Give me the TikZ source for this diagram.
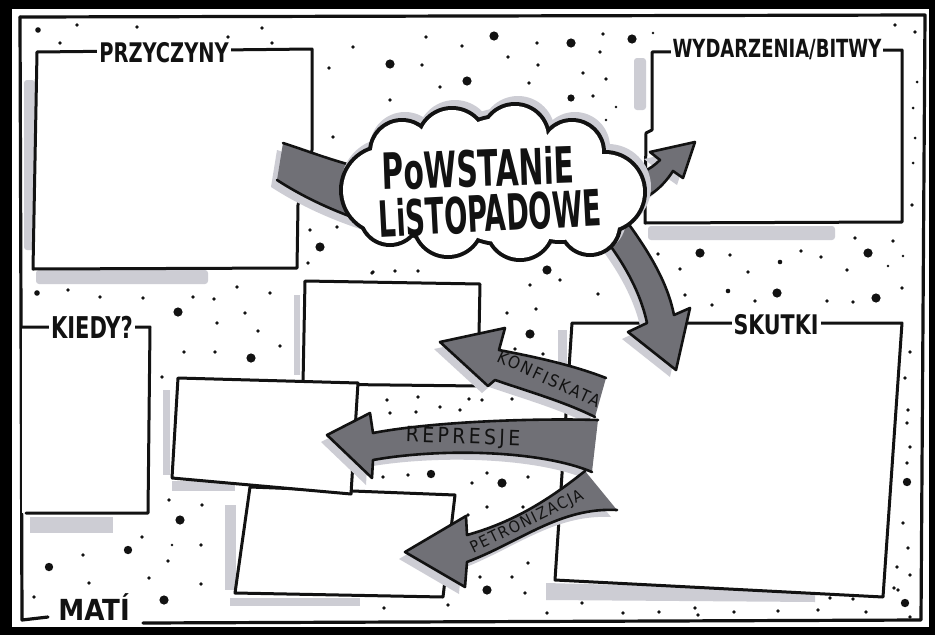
\documentclass[tikz,border=0pt]{standalone}
\usepackage{fontspec}
\usepackage{graphicx}
\newfontfamily\handfont{DejaVu Sans Condensed}
\usetikzlibrary{positioning}
\definecolor{ink}{RGB}{18,18,18}
\definecolor{bandgray}{RGB}{112,112,118}
\definecolor{smudge}{RGB}{205,205,212}
\newcommand{\narrow}[2]{\scalebox{#1}[1]{#2}}
\tikzset{
	frameline/.style={line width=3.2pt, line cap=round, line join=round, draw=ink},
	boxline/.style={line width=3pt, line cap=round, line join=round, draw=ink, fill=white},
	band/.style={fill=bandgray, draw=ink, line width=2.6pt, line join=round, line cap=round,
		preaction={draw=none, fill=smudge, transform canvas={shift={(-6pt,-7pt)}}}},
	title/.style={font=\handfont\bfseries\fontsize{27}{27}\selectfont, text=ink, fill=white, inner sep=2pt},
	bandlabel/.style={font=\handfont\fontsize{20}{20}\selectfont, text=ink, inner sep=0pt},
	bigword/.style={font=\handfont\bfseries\fontsize{50}{50}\selectfont, text=ink, inner sep=0pt}
}
\def\cloudpuffs{440/185/55, 500/180/62, 560/188/52, 385/190/42, 402/152/30, 452/143/33, 515/138/32, 572/152/30, 605/192/38, 590/225/28, 520/226/32, 448/222/33, 390/215/28}
\begin{document}
\begin{tikzpicture}[x=1pt,y=-1pt]
	\useasboundingbox (0,0) rectangle (935,635);
	\fill[black] (0,0) rectangle (935,635);
	\fill[white] (12,9) rectangle (929,627);
	\draw[frameline] (20,17) -- (925,15) -- (921,620) -- (143,623);
	\draw[frameline] (20,17) -- (22,620) -- (48,617);

	\foreach \x/\y/\r in {38/30/2.8, 77/25/1.9, 137/27/1.9, 60/43/1.9, 228/37/1.9, 262/28/1.9, 272/43/1.9, 329/68/1.9, 353/47/1.9, 390/64/4.6, 422/65/1.9, 426/37/1.9, 462/46/1.9, 494/36/4.6, 467/81/4.6, 440/87/1.9, 390/100/1.9, 333/137/1.9, 508/57/1.9, 537/43/1.9, 538/65/1.9, 529/83/1.9, 571/43/4.6, 603/34/1.9, 600/52/1.9, 632/39/4.6, 653/33/1.3, 583/73/1.9, 606/79/1.9, 571/98/3.6, 593/96/1.9, 616/107/1.3, 606/120/1.3,
		337/227/1.9, 310/230/1.9, 320/247/4.6, 308/263/1.9, 373/272/1.9, 547/270/4.6, 530/285/1.9, 560/280/1.9, 598/294/1.9,
		37/293/2.8, 68/290/1.9, 100/297/1.9, 143/298/1.9, 193/297/1.9, 237/287/1.9, 270/293/1.9, 178/312/4.6, 245/313/1.9, 214/299/1.9, 217/323/1.9, 258/331/1.9, 184/352/1.9, 215/352/1.9, 280/346/1.9, 251/358/4.6, 162/377/1.9,
		895/25/1.9, 915/32/1.9, 917/82/1.5, 913/108/1.5, 915/138/1.5, 913/163/1.5, 912/205/1.9,
		700/253/4.6, 658/254/1.9, 730/255/1.9, 780/262/2.3, 801/251/1.9, 821/257/1.9, 855/238/1.9, 868/253/4.6, 893/241/1.9, 903/256/1.3, 680/269/1.9, 748/272/1.9, 847/270/1.9, 888/266/1.3, 685/295/1.9, 728/291/2.3, 777/293/4.6, 712/305/1.9, 755/301/1.9, 827/301/1.9, 853/302/1.9, 876/298/4.6, 902/288/1.9,
		910/352/1.9, 905/378/1.9, 908/410/1.9, 907/423/1.9, 910/447/1.9, 907/463/1.9, 907/482/4.2, 903/523/1.9, 908/548/1.9, 897/567/1.9, 910/575/1.9, 898/590/1.9, 905/603/4.2, 910/617/1.9,
		372/273/1.9, 395/271/1.9, 418/271/1.9, 387/400/1.9, 418/397/1.9, 440/407/1.9, 390/413/1.9, 416/412/1.9, 383/477/1.9, 408/475/1.9, 431/474/4.2,
		507/313/1.9, 536/309/1.9, 530/334/4.6, 515/349/1.9, 543/354/1.9, 469/399/1.9, 482/400/1.9, 512/399/1.9, 460/410/1.9,
		472/483/1.9, 487/473/1.9, 502/483/4.6, 528/477/1.9, 487/507/1.9, 468/515/1.9, 523/507/1.9, 512/530/1.9, 528/563/1.9, 480/577/1.9, 512/577/1.9, 487/590/4.6, 525/593/1.9, 582/603/1.9, 448/605/1.9, 384/608/1.9,
		169/500/1.9, 202/505/1.9, 180/520/4.6, 142/537/1.9, 172/545/1.3, 201/545/1.9, 128/550/4.2, 83/555/1.9, 168/561/1.9, 49/567/4.2, 89/583/1.9, 149/578/1.9, 201/584/1.9, 34/597/1.9, 164/600/4.6,
		547/613/1.9, 623/613/1.9, 659/612/1.9, 695/608/1.9, 698/615/1.9, 734/612/1.9, 778/611/1.9, 818/610/1.9, 830/598/1.9, 853/599/1.9, 866/612/1.9, 894/588/1.9}
		\fill[ink] (\x,\y) circle[radius=\r];

	\fill[smudge, rounded corners=3pt] (24,80) rectangle (35,250);
	\fill[smudge, rounded corners=3pt] (36,270) rectangle (208,284);
	\fill[smudge, rounded corners=3pt] (634,58) rectangle (646,110);
	\fill[smudge, rounded corners=3pt] (648,226) rectangle (835,240);
	\fill[smudge] (558,330) rectangle (567,375);
	\fill[smudge] (546,583) -- (815,590) -- (815,602) -- (546,600) -- cycle;
	\fill[smudge] (30,517) rectangle (113,533);
	\fill[smudge] (294,295) rectangle (300,375);
	\fill[smudge] (163,390) rectangle (170,475);
	\fill[smudge] (172,481) rectangle (235,491);
	\fill[smudge] (225,505) rectangle (236,590);
	\fill[smudge] (230,598) rectangle (360,606);

	\filldraw[boxline] (37,52) -- (312,49) -- (312,150) -- (298,205) -- (297,268) -- (33,269) -- cycle;
	\filldraw[boxline] (652,52) -- (902,50) -- (902,222) -- (645,223) -- (646,133) -- (652,130) -- cycle;
	\filldraw[boxline] (572,323) -- (902,323) -- (883,597) -- (555,580) -- cycle;
	\fill[white] (22,327) rectangle (150,513);
	\draw[boxline] (22,327) -- (150,327) -- (148,513) -- (26,513);
	\filldraw[boxline] (250,487) -- (455,495) -- (443,597) -- (235,593) -- cycle;
	\filldraw[boxline] (305,281) -- (480,284) -- (478,386) -- (303,384) -- cycle;
	\filldraw[boxline] (178,378) -- (358,383) -- (351,494) -- (172,478) -- cycle;

	\filldraw[band] (283,143) .. controls (305,150) and (330,160) .. (362,168) -- (366,222) .. controls (330,210) and (300,195) .. (277,180);
	\filldraw[band] (620,176) .. controls (638,176) and (650,170) .. (660,160) -- (650,152) -- (695,142) -- (683,178) -- (673,171) .. controls (662,188) and (648,200) .. (622,206);
	\filldraw[band] (600,232) .. controls (622,260) and (640,290) .. (647,323) -- (628,332) -- (676,370) -- (690,308) -- (674,315) .. controls (668,285) and (652,255) .. (622,215);
	\filldraw[band] (606,378) .. controls (570,364) and (530,356) .. (499,350) -- (505,328) -- (440,342) -- (488,386) -- (495,380) .. controls (530,392) and (565,402) .. (595,417);
	\filldraw[band] (598,420) .. controls (530,418) and (430,422) .. (373,433) -- (370,413) -- (327,435) -- (372,478) -- (373,460) .. controls (440,448) and (540,450) .. (592,472);
	\filldraw[band] (585,471) .. controls (545,503) and (510,523) .. (467,535) -- (466,516) -- (405,552) -- (465,587) -- (467,562) .. controls (520,542) and (560,507) .. (617,510);

	\foreach \cx/\cy/\cr in \cloudpuffs
		\fill[smudge] (\cx+3,\cy-5) circle[radius=\cr+5];
	\foreach \cx/\cy/\cr in \cloudpuffs
		\fill[ink] (\cx,\cy) circle[radius=\cr+4];
	\foreach \cx/\cy/\cr in \cloudpuffs
		\fill[white] (\cx,\cy) circle[radius=\cr];

	\node[bigword, rotate=2] (rising) at (478,168) {\narrow{0.66}{PoWSTANiE}};
	\node[bigword, rotate=3] (november) at (490,213) {\narrow{0.61}{LiSTOPADOWE}};

	\node[title] (causes) at (164,53) {\narrow{0.8}{PRZYCZYNY}};
	\node[title, font=\handfont\bfseries\fontsize{25}{25}\selectfont] (events) at (777,50) {\narrow{0.8}{WYDARZENIA/BITWY}};
	\node[title] (effects) at (776,325) {\narrow{0.85}{SKUTKI}};
	\node[title, font=\handfont\bfseries\fontsize{30}{30}\selectfont] (when) at (92,327) {\narrow{0.78}{KIEDY?}};
	\node[title, fill=none, font=\handfont\bfseries\fontsize{29}{29}\selectfont] (author) at (94,607) {MATÍ};

	\node[bandlabel, rotate=-25, font=\handfont\fontsize{17}{17}\selectfont] (confiscation) at (549,379) {\addfontfeature{LetterSpace=12}KONFISKATA};
	\node[bandlabel, rotate=-2, font=\handfont\fontsize{21}{21}\selectfont] (repression) at (463,438) {\addfontfeature{LetterSpace=16}REPRESJE};
	\node[bandlabel, rotate=26, font=\handfont\fontsize{16}{16}\selectfont] (dethronement) at (527,522) {\addfontfeature{LetterSpace=10}PETRONIZACJA};
\end{tikzpicture}
\end{document}
